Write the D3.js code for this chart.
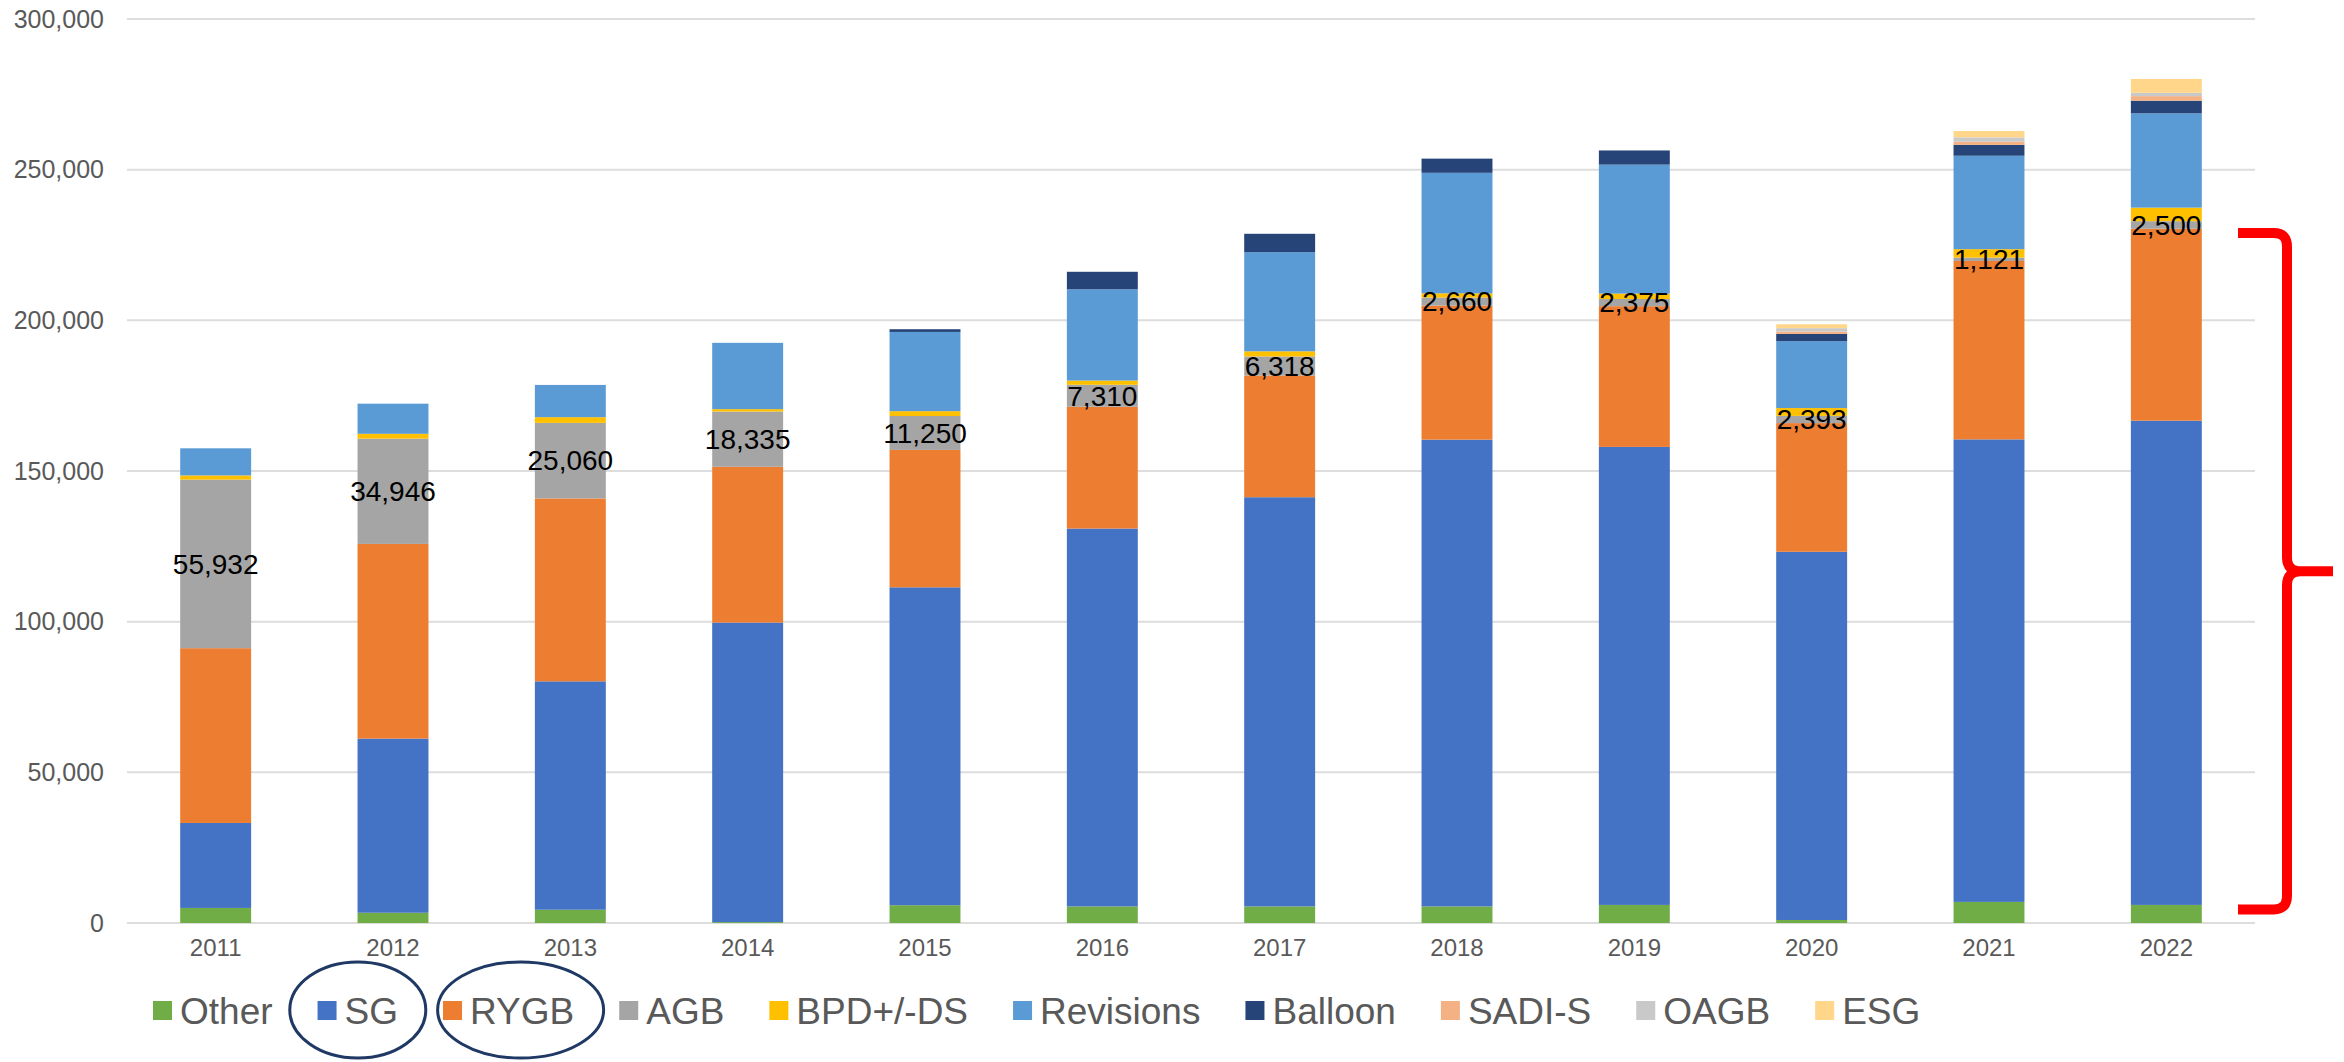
<!DOCTYPE html>
<html>
<head>
<meta charset="utf-8">
<script src="https://cdn.jsdelivr.net/npm/d3@7"></script>
<style>
  body { margin: 0; background: #fff; }
  text { font-family: "Liberation Sans", Arial, sans-serif; }
</style>
</head>
<body>
<div id="chart"></div>
<script>
var years = ["2011","2012","2013","2014","2015","2016","2017","2018","2019","2020","2021","2022"];

var other     = [5000, 3400, 4400, 300, 5900, 5500, 5500, 5500, 6000, 1000, 7000, 6000];
var sg        = [28200, 57800, 75800, 99400, 105500, 125400, 135800, 154900, 152000, 122200, 153500, 160700];
var rygb      = [58000, 64600, 60700, 51700, 45600, 40400, 40400, 44500, 46700, 42700, 59200, 63700];
var agb       = [55932, 34946, 25060, 18335, 11250, 7310, 6318, 2660, 2375, 2393, 1121, 2500];
var bpd       = [1400, 1600, 1900, 800, 1600, 1400, 1700, 1400, 1800, 2600, 2800, 4500];
var revisions = [9000, 10000, 10700, 22000, 26300, 30300, 32900, 40000, 42800, 22200, 31000, 31300];
var balloon   = [0, 0, 0, 0, 900, 5800, 6100, 4700, 4700, 2400, 3600, 4200];
var sadis     = [0, 0, 0, 0, 0, 0, 0, 0, 0, 800, 1100, 1500];
var oagb      = [0, 0, 0, 0, 0, 0, 0, 0, 0, 1100, 1400, 1100];
var esg       = [0, 0, 0, 0, 0, 0, 0, 0, 0, 1300, 2100, 4600];

var seriesNames = ["Other", "SG", "RYGB", "AGB", "BPD+/-DS", "Revisions", "Balloon", "SADI-S", "OAGB", "ESG"];
var seriesValues = [other, sg, rygb, agb, bpd, revisions, balloon, sadis, oagb, esg];
var colors = ["#70AD47", "#4472C4", "#ED7D31", "#A5A5A5", "#FFC000", "#5B9BD5", "#264478", "#F4B183", "#C9C9C9", "#FFD68A"];

var yTicks = [0, 50000, 100000, 150000, 200000, 250000, 300000];
var circled = ["SG", "RYGB"];

// build rows for d3.stack
var rows = years.map(function(yr, i) {
    var r = { year: yr };
    seriesNames.forEach(function(k, j) { r[k] = seriesValues[j][i]; });
    return r;
});

var width = 2344, height = 1062;
var svg = d3.select("#chart").append("svg").attr("width", width).attr("height", height);

var x = d3.scaleBand().domain(years).range([127, 2255]).paddingInner(0.6).paddingOuter(0.3);
var y = d3.scaleLinear().domain([0, 300000]).range([923, 19]);
var color = d3.scaleOrdinal().domain(seriesNames).range(colors);

// gridlines
svg.append("g").selectAll("line")
    .data(yTicks)
    .enter().append("line")
    .attr("x1", 127).attr("x2", 2255)
    .attr("y1", function(d) { return y(d); })
    .attr("y2", function(d) { return y(d); })
    .attr("stroke", "#DDDDDD")
    .attr("stroke-width", 2);

// y axis labels
var yAxis = d3.axisLeft(y).tickValues(yTicks).tickFormat(d3.format(",")).tickSize(0).tickPadding(0);
var gy = svg.append("g").attr("transform", "translate(104,0)").call(yAxis);
gy.select(".domain").remove();
gy.selectAll("text")
    .attr("font-size", 25)
    .attr("fill", "#595959")
    .attr("font-family", "Liberation Sans, Arial, sans-serif");

// x axis labels
var xAxis = d3.axisBottom(x).tickSize(0).tickPadding(0);
var gx = svg.append("g").attr("transform", "translate(0,939)").call(xAxis);
gx.select(".domain").remove();
gx.selectAll("text")
    .attr("font-size", 24)
    .attr("fill", "#595959")
    .attr("font-family", "Liberation Sans, Arial, sans-serif");

// stacked bars
var stacked = d3.stack().keys(seriesNames)(rows);

svg.append("g").selectAll("g")
    .data(stacked)
    .enter().append("g")
    .attr("fill", function(d) { return color(d.key); })
    .selectAll("rect")
    .data(function(d) { return d; })
    .enter().append("rect")
    .attr("x", function(d) { return x(d.data.year); })
    .attr("width", x.bandwidth())
    .attr("y", function(d) { return y(d[1]); })
    .attr("height", function(d) { return y(d[0]) - y(d[1]); });

// AGB value labels
var agbLayer = stacked[seriesNames.indexOf("AGB")];
svg.append("g").selectAll("text")
    .data(agbLayer)
    .enter().append("text")
    .attr("x", function(d) { return x(d.data.year) + x.bandwidth() / 2; })
    .attr("y", function(d) { return y((d[0] + d[1]) / 2); })
    .attr("dy", "0.35em")
    .attr("text-anchor", "middle")
    .attr("font-size", 28)
    .attr("fill", "#000")
    .text(function(d) { return d3.format(",")(d.data.AGB); });

// legend
var legend = svg.append("g").attr("transform", "translate(153,0)");
var lx = 0;
seriesNames.forEach(function(name) {
    var item = legend.append("g").attr("transform", "translate(" + lx + ",0)");
    item.append("rect")
        .attr("x", 0).attr("y", 1001)
        .attr("width", 19).attr("height", 19)
        .attr("fill", color(name));
    var t = item.append("text")
        .attr("x", 27).attr("y", 1024)
        .attr("font-size", 37)
        .attr("fill", "#595959")
        .text(name);
    var w = 27 + t.node().getComputedTextLength();
    if (circled.indexOf(name) >= 0) {
        var cx = name == "SG" ? w / 2 : w / 2 + 12;
        var rx = name == "SG" ? 68 : 83;
        item.append("ellipse")
            .attr("cx", cx).attr("cy", 1010)
            .attr("rx", rx).attr("ry", 48)
            .attr("fill", "none")
            .attr("stroke", "#203864")
            .attr("stroke-width", 3);
    }
    lx += w + 45;
});

// red brace on the right
var braceTop = y(229000), braceBot = y(4500), braceMid = (braceTop + braceBot) / 2;
var xl = 2238, xv = 2287, xt = 2333;
var brace = d3.path();
brace.moveTo(xl, braceTop);
brace.lineTo(xv - 13, braceTop);
brace.quadraticCurveTo(xv, braceTop, xv, braceTop + 14);
brace.lineTo(xv, braceMid - 14);
brace.quadraticCurveTo(xv, braceMid, xv + 14, braceMid);
brace.lineTo(xt, braceMid);
brace.moveTo(xv + 14, braceMid);
brace.quadraticCurveTo(xv, braceMid, xv, braceMid + 14);
brace.lineTo(xv, braceBot - 14);
brace.quadraticCurveTo(xv, braceBot, xv - 13, braceBot);
brace.lineTo(xl, braceBot);

svg.append("path")
    .attr("d", brace.toString())
    .attr("fill", "none")
    .attr("stroke", "#FF0000")
    .attr("stroke-width", 10);
</script>
</body>
</html>
